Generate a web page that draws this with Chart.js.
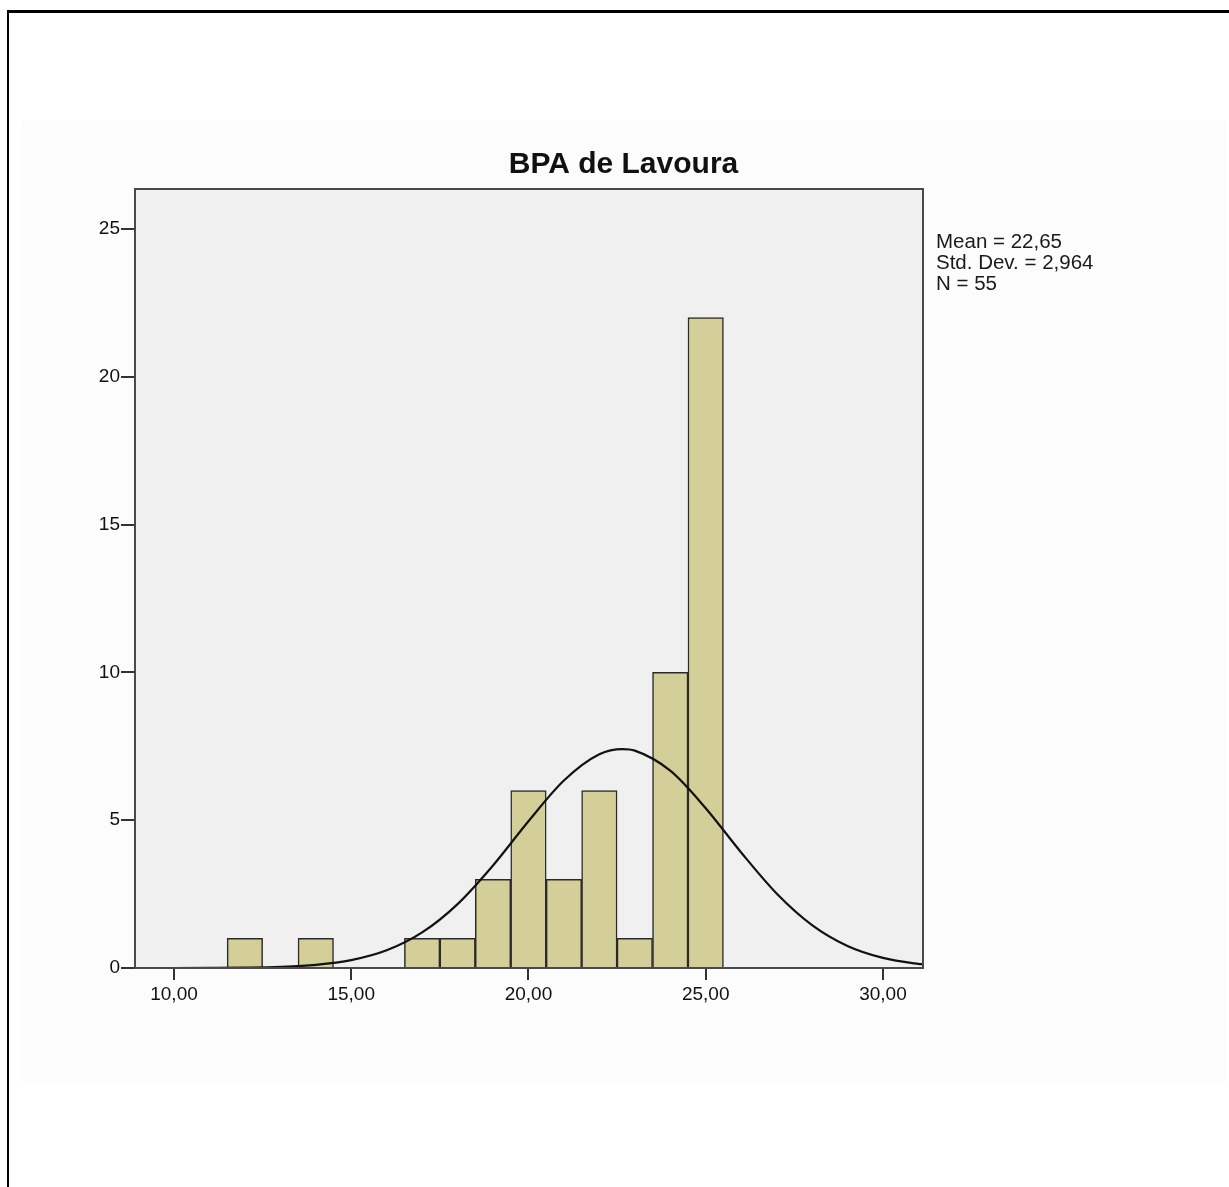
<!DOCTYPE html>
<html lang="pt">
<head>
  <meta charset="UTF-8" />
  <title>BPA de Lavoura</title>
  <script src="https://cdn.jsdelivr.net/npm/chart.js"></script>
  <style>
    body { margin: 0; background: #fff; }
    #frame { position: absolute; left: 7px; top: 10px; width: 1240px; height: 1200px;
             border-left: 2px solid #000; border-top: 3px solid #000; }
    #panel { position: absolute; left: 21px; top: 121px; width: 1205px; height: 961px; background: #fcfcfc; }
  </style>
</head>
<body>
  <div id="frame"></div>
  <div id="panel"><canvas id="hist"></canvas></div>

  <script>
    // Histogramm-Daten (Klassenmitten, Breite 1)
    const binCenters = [12, 14, 17, 18, 19, 20, 21, 22, 23, 24, 25];
    const counts = [1, 1, 1, 1, 3, 6, 3, 6, 1, 10, 22];

    // Normalverteilungskurve
    const curveX = [9, 10, 11, 12, 13, 14, 15, 16, 17, 18, 19, 20, 21, 22, 22.65, 23, 24, 25, 26, 27, 28, 29, 30, 31, 31.13];
    const curveY = [0.0002, 0.0008, 0.0033, 0.0116, 0.037, 0.105, 0.265, 0.597, 1.203, 2.162, 3.469, 4.964, 6.34, 7.227, 7.403, 7.352, 6.674, 5.406, 3.909, 2.522, 1.452, 0.746, 0.342, 0.14, 0.124];

    const statsLines = ["Mean = 22,65", "Std. Dev. = 2,964", "N = 55"];
    const FONT = "'Liberation Sans', Arial, sans-serif";

    const plotFrame = {
      id: "plotFrame",
      beforeDatasetsDraw(chart) {
        const { ctx, chartArea: a } = chart;
        ctx.save();
        ctx.fillStyle = "#f0f0f0";
        ctx.fillRect(a.left, a.top, a.right - a.left, a.bottom - a.top);
        ctx.restore();
      },
      afterDatasetsDraw(chart) {
        const { ctx, chartArea: a } = chart;
        ctx.save();
        ctx.strokeStyle = "#4a4a4a";
        ctx.lineWidth = 2;
        ctx.strokeRect(a.left, a.top, a.right - a.left, a.bottom - a.top);
        ctx.restore();
      },
      afterDraw(chart) {
        const { ctx, chartArea: a } = chart;
        ctx.save();
        ctx.fillStyle = "#1a1a1a";
        ctx.font = "20.5px " + FONT;
        ctx.textBaseline = "middle";
        statsLines.forEach((t, i) => ctx.fillText(t, a.right + 13, a.top + 53 + i * 21));
        ctx.restore();
      }
    };

    new Chart(document.getElementById("hist"), {
      data: {
        datasets: [
          {
            type: "line",
            data: curveX.map((x, i) => ({ x: x, y: curveY[i] })),
            borderColor: "#111",
            borderWidth: 2.2,
            pointRadius: 0,
            cubicInterpolationMode: "monotone",
            order: 0
          },
          {
            type: "bar",
            data: binCenters.map((x, i) => ({ x: x, y: counts[i] })),
            backgroundColor: "#d4cf98",
            borderColor: "#2a2a2a",
            borderWidth: 1.5,
            barPercentage: 1,
            categoryPercentage: 1,
            order: 1
          }
        ]
      },
      options: {
        responsive: true,
        maintainAspectRatio: false,
        animation: false,
        plugins: {
          legend: { display: false },
          tooltip: { enabled: false },
          title: {
            display: true,
            text: "BPA de Lavoura",
            color: "#111",
            font: { family: FONT, size: 30, weight: "bold", lineHeight: 1.2 },
            padding: { top: 26, bottom: 6 }
          }
        },
        scales: {
          x: {
            type: "linear",
            min: 8.9,
            max: 31.13,
            offset: false,
            afterFit(s) { s.height = 114; },
            border: { display: false },
            grid: { drawOnChartArea: false, drawTicks: true, tickLength: 12, color: "#333", lineWidth: 2, offset: false },
            ticks: {
              stepSize: 5,
              includeBounds: false,
              maxRotation: 0,
              padding: 3,
              color: "#111",
              font: { family: FONT, size: 19 },
              callback: v => v.toFixed(2).replace(".", ",")
            }
          },
          y: {
            min: 0,
            max: 26.35,
            afterFit(s) { s.width = 114; },
            border: { display: false },
            grid: { drawOnChartArea: false, drawTicks: true, tickLength: 14, color: "#333", lineWidth: 2 },
            ticks: {
              stepSize: 5,
              includeBounds: false,
              padding: 1,
              color: "#111",
              font: { family: FONT, size: 19 }
            }
          },
          // leerer Bereich rechts für die Statistik
          side: {
            position: "right",
            afterFit(s) { s.width = 303; },
            border: { display: false },
            grid: { display: false },
            ticks: { display: false }
          }
        }
      },
      plugins: [plotFrame]
    });
  </script>
</body>
</html>
